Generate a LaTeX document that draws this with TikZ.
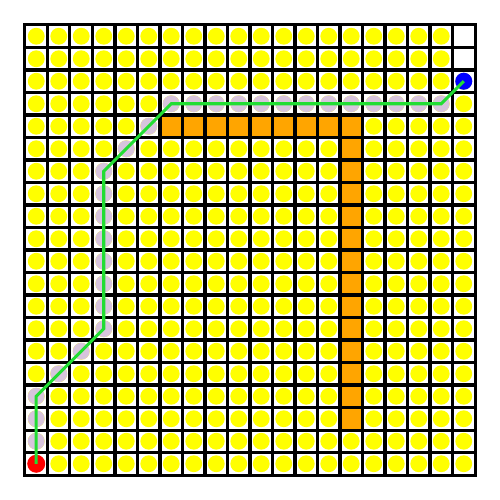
\documentclass[tikz,border=0pt]{standalone}
\definecolor{cellyellow}{RGB}{255,255,0}
\definecolor{wallorange}{RGB}{255,165,0}
\definecolor{visited}{RGB}{215,196,220}
\definecolor{pathgreen}{RGB}{34,221,51}
\begin{document}
\begin{tikzpicture}[x=0.5cm,y=0.5cm,
  dot/.style={circle,inner sep=0pt,minimum size=0.38cm},
  gridline/.style={line width=1.9pt,black,line cap=rect},
  route/.style={line width=1.9pt,pathgreen,line join=miter},
  endpoint/.style={circle,inner sep=0pt,minimum size=0.4cm}]
\useasboundingbox (-1.111,-1.111) rectangle (21.111,21.111);
\fill[white] (0,0) rectangle (20,20);
% yellow circles
\foreach \c in {0,...,19}
  \foreach \r in {0,...,19}
    \fill[cellyellow] (\c+0.5,\r+0.5) circle[radius=0.375];
% empty cells
\fill[white] (19,18) rectangle (20,20);
% walls
\fill[wallorange] (6,15) rectangle (15,16);
\fill[wallorange] (14,2) rectangle (15,16);
% visited cells
\foreach \p in {(0.5,1.5),(0.5,2.5),(0.5,3.5),(1.5,4.5),(2.5,5.5),
  (3.5,6.5),(3.5,7.5),(3.5,8.5),(3.5,9.5),(3.5,10.5),(3.5,11.5),(3.5,12.5),(3.5,13.5),
  (4.5,14.5),(5.5,15.5),(6.5,16.5),(7.5,16.5),(8.5,16.5),(9.5,16.5),(10.5,16.5),
  (11.5,16.5),(12.5,16.5),(13.5,16.5),(14.5,16.5),(15.5,16.5),(16.5,16.5),(17.5,16.5),(18.5,16.5)}
  \fill[visited] \p circle[radius=0.375];
% grid
\foreach \k in {0,...,20} {
  \draw[gridline] (\k,0) -- (\k,20);
  \draw[gridline] (0,\k) -- (20,\k);
}
% start and goal
\node[endpoint,fill=red] (start) at (0.5,0.5) {};
\node[endpoint,fill=blue,minimum size=0.38cm] (goal) at (19.5,17.5) {};
\coordinate (w1) at (0.5,3.5);
\coordinate (w2) at (3.5,6.5);
\coordinate (w3) at (3.5,13.5);
\coordinate (w4) at (6.5,16.5);
\coordinate (w5) at (18.5,16.5);
\draw[route] (start.center) -- (w1) -- (w2) -- (w3) -- (w4) -- (w5) -- (goal.center);
\end{tikzpicture}
\end{document}
